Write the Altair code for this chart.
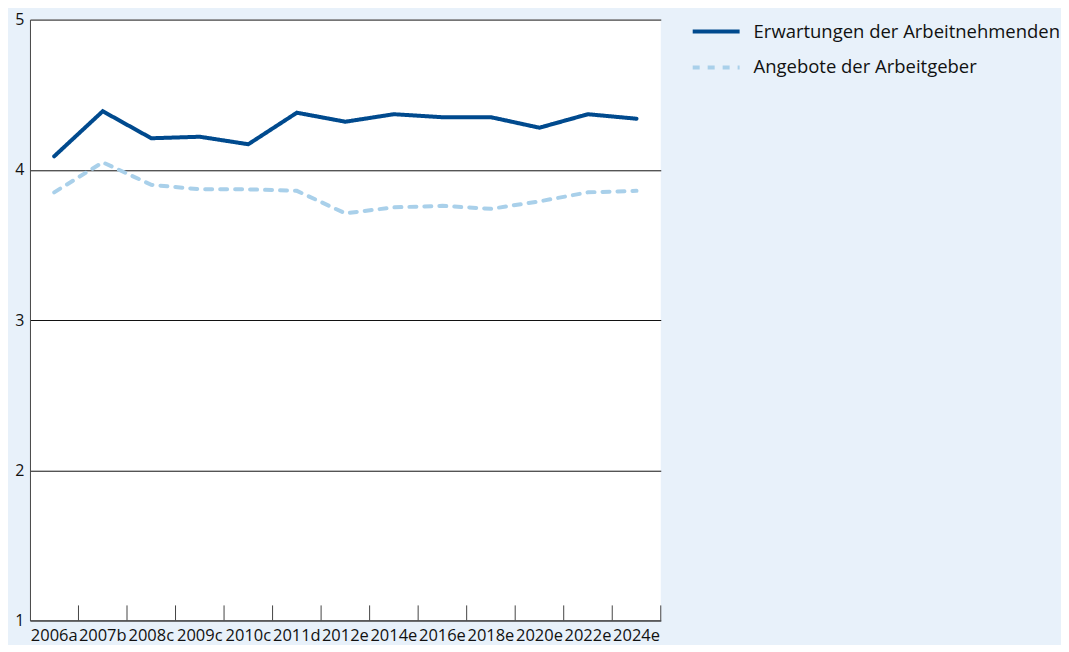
import altair as alt
import pandas as pd

years = ["2006a", "2007b", "2008c", "2009c", "2010c", "2011d", "2012e",
         "2014e", "2016e", "2018e", "2020e", "2022e", "2024e"]
erwartungen = [4.09, 4.39, 4.21, 4.22, 4.17, 4.38, 4.32, 4.37, 4.35, 4.35, 4.28, 4.37, 4.34]
angebote = [3.85, 4.05, 3.90, 3.87, 3.87, 3.86, 3.71, 3.75, 3.76, 3.74, 3.79, 3.85, 3.86]
series = ["Erwartungen der Arbeitnehmenden", "Angebote der Arbeitgeber"]
colors = ["#004a8e", "#a9d0ea"]
y_ticks = [1, 2, 3, 4, 5]

rows = []
for i, yr in enumerate(years):
    rows.append({"Jahr": yr, "Serie": series[0], "Wert": erwartungen[i]})
    rows.append({"Jahr": yr, "Serie": series[1], "Wert": angebote[i]})
df = pd.DataFrame(rows)
tick_df = pd.DataFrame({"Jahr": years})

FONT = "Open Sans"

xscale = alt.Scale(type="band", domain=years, paddingInner=0, paddingOuter=0)

legend = alt.Legend(
    title=None, orient="none", legendX=662, legendY=1,
    symbolType="stroke", symbolSize=2209, symbolStrokeWidth=4,
    labelFontSize=18.5, labelFont=FONT, labelColor="#111",
    clipHeight=22, rowPadding=14, labelOffset=12, padding=0, labelLimit=400,
)

lines = alt.Chart(df).mark_line(strokeWidth=4, strokeCap="round", strokeJoin="miter").encode(
    x=alt.X("Jahr:N", scale=xscale, bandPosition=0.5, sort=years,
            axis=alt.Axis(title=None, labelAngle=0, ticks=False, domainColor="#444",
                          labelFontSize=16.5, labelFont=FONT, labelColor="#111",
                          labelPadding=7, grid=False)),
    y=alt.Y("Wert:Q", scale=alt.Scale(domain=[1, 5], nice=False, zero=False),
            axis=alt.Axis(title=None, values=y_ticks, ticks=False, grid=True,
                          gridColor="#111", gridWidth=1, domainColor="#444",
                          labelFontSize=16, labelFont=FONT, labelColor="#111",
                          labelPadding=6, format="d")),
    color=alt.Color("Serie:N", scale=alt.Scale(domain=series, range=colors), legend=legend),
    strokeDash=alt.StrokeDash("Serie:N", scale=alt.Scale(domain=series, range=[[1, 0], [7, 8]]),
                              legend=legend),
)

tick_rules = alt.Chart(tick_df).mark_rule(color="#444", strokeWidth=1).encode(
    x=alt.X("Jahr:N", scale=xscale, bandPosition=1, sort=years),
    y=alt.datum(1),
    y2=alt.datum(1.1),
)

chart = alt.layer(lines, tick_rules).properties(
    width=632, height=602,
    background="#e8f1fa",
    padding={"left": 6, "top": 3, "right": 0, "bottom": 0},
).configure_view(fill="white", stroke=None)

chart.save("out.html", embed_options={"renderer": "svg", "actions": False})
